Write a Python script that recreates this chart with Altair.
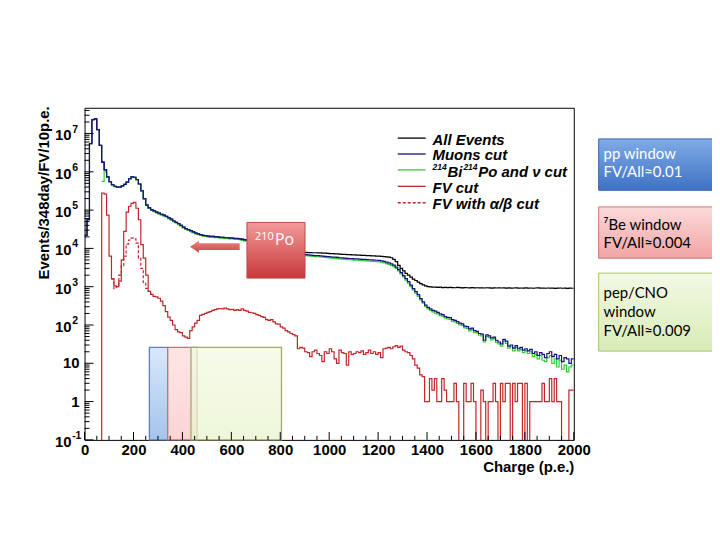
import altair as alt
import pandas as pd

# ------------------------------------------------------------------ data
bin_width = 10  # p.e. per bin, bins start at 0

all_events = [
    22000, 56000, 5.4e6, 2.3e7, 2.4e7, 1.26e7, 4.9e6, 1.8e6, 1.12e6, 7.4e5,
    5.5e5, 4.6e5, 4.2e5, 4.0e5, 4.0e5, 4.3e5, 4.7e5, 5.4e5, 6.6e5, 7.4e5,
    7.2e5, 6.3e5, 4.8e5, 3.2e5, 2.0e5, 1.35e5, 1.15e5, 1.02e5, 9.5e4, 8.9e4,
    8.3e4, 7.8e4, 7.4e4, 6.9e4, 6.3e4, 5.8e4, 5.2e4, 4.8e4, 4.4e4, 4.0e4,
    3.6e4, 3.3e4, 3.1e4, 2.9e4, 2.7e4, 2.5e4, 2.4e4, 2.3e4, 2.2e4, 2.15e4,
    2.1e4, 2.05e4, 2.05e4, 2.0e4, 2.0e4, 1.95e4, 1.95e4, 1.9e4, 1.9e4, 1.86e4,
    1.86e4, 1.82e4, 1.82e4, 1.78e4, 1.74e4, 1.7e4, 1.66e4, 1.62e4, 1.58e4, 1.55e4,
    1.51e4, 1.45e4, 1.38e4, 1.32e4, 1.26e4, 1.2e4, 1.15e4, 1.1e4, 1.05e4, 1.0e4,
    9800, 9550, 9330, 9120, 8900, 8700, 8500, 8300, 8100, 7900,
    7900, 7800, 7800, 7700, 7700, 7600, 7600, 7500, 7500, 7400,
    7300, 7300, 7200, 7200, 7100, 7000, 7000, 6900, 6900, 6800,
    6800, 6700, 6700, 6600, 6600, 6500, 6500, 6400, 6400, 6300,
    6300, 6200, 6100, 6000, 5900, 5700, 5200, 4500, 3600, 3000,
    2600, 2240, 2000, 1780, 1580, 1450, 1320, 1200, 1120, 1050,
    1000, 990, 970, 980, 960, 970, 950, 965, 945, 955,
    950, 940, 955, 945, 935, 950, 940, 930, 945, 935,
    940, 930, 935, 925, 940, 930, 920, 935, 925, 930,
    925, 935, 920, 930, 915, 925, 935, 920, 925, 915,
    930, 920, 925, 910, 925, 930, 915, 920, 910, 925,
    915, 920, 905, 915, 925, 910, 915, 905, 920, 910,
]

muons_cut = [
    22000, 56000, 5.4e6, 2.3e7, 2.4e7, 1.26e7, 4.9e6, 1.8e6, 1.12e6, 7.4e5,
    5.5e5, 4.6e5, 4.2e5, 4.0e5, 4.0e5, 4.3e5, 4.7e5, 5.4e5, 6.6e5, 7.4e5,
    7.2e5, 6.3e5, 4.8e5, 3.2e5, 2.0e5, 1.35e5, 1.15e5, 1.02e5, 9.5e4, 8.9e4,
    8.3e4, 7.8e4, 7.4e4, 6.9e4, 6.3e4, 5.8e4, 5.2e4, 4.8e4, 4.4e4, 4.0e4,
    3.6e4, 3.3e4, 3.1e4, 2.9e4, 2.7e4, 2.5e4, 2.4e4, 2.3e4, 2.2e4, 2.15e4,
    2.1e4, 2.05e4, 2.05e4, 2.0e4, 2.0e4, 1.95e4, 1.95e4, 1.9e4, 1.9e4, 1.86e4,
    1.85e4, 1.81e4, 1.8e4, 1.76e4, 1.72e4, 1.67e4, 1.63e4, 1.59e4, 1.55e4, 1.51e4,
    1.47e4, 1.41e4, 1.34e4, 1.28e4, 1.22e4, 1.16e4, 1.11e4, 1.06e4, 1.01e4, 9600,
    9300, 9050, 8800, 8600, 8400, 8200, 8000, 7800, 7600, 7400,
    6900, 6800, 6700, 6600, 6500, 6450, 6400, 6300, 6200, 6100,
    6000, 5950, 5900, 5800, 5700, 5650, 5600, 5500, 5450, 5400,
    5350, 5300, 5250, 5200, 5150, 5100, 5050, 5000, 4950, 4900,
    4850, 4750, 4600, 4400, 4200, 3950, 3650, 3250, 2800, 2340,
    1950, 1620, 1350, 1100, 890, 740, 620, 490, 400, 330,
    290, 263, 240, 229, 214, 195, 186, 166, 158, 155,
    138, 132, 123, 112, 107, 93, 91, 79, 83, 71,
    68, 60, 58, 40, 55, 52, 46, 48, 40, 36,
    32, 42, 38, 28, 30, 25, 29, 24, 26, 22,
    24, 21, 23, 18, 20, 16, 19, 17, 14, 18,
    20, 15, 17, 13, 16, 11, 14, 13, 10, 13,
]

bipo_nu_first_bin = 70
bipo_nu_cut = [
    5.6e5, 1.0e6, 7.2e5,
    5.4e5, 4.5e5, 4.1e5, 3.9e5, 3.9e5, 4.2e5, 4.6e5, 5.3e5, 6.4e5, 7.2e5,
    7.0e5, 6.1e5, 4.7e5, 3.1e5, 1.95e5, 1.3e5, 1.1e5, 9.8e4, 9.1e4, 8.5e4,
    7.9e4, 7.4e4, 7.0e4, 6.6e4, 6.0e4, 5.5e4, 5.0e4, 4.6e4, 4.2e4, 3.8e4,
    3.45e4, 3.15e4, 2.95e4, 2.75e4, 2.55e4, 2.4e4, 2.3e4, 2.2e4, 2.1e4, 2.05e4,
    2.0e4, 1.95e4, 1.95e4, 1.9e4, 1.9e4, 1.85e4, 1.85e4, 1.8e4, 1.8e4, 1.76e4,
    1.78e4, 1.74e4, 1.72e4, 1.68e4, 1.63e4, 1.58e4, 1.54e4, 1.49e4, 1.45e4, 1.41e4,
    1.37e4, 1.31e4, 1.25e4, 1.19e4, 1.13e4, 1.08e4, 1.03e4, 9800, 9300, 8900,
    8600, 8300, 8100, 7900, 7700, 7500, 7300, 7100, 6900, 6700,
    6500, 6400, 6300, 6200, 6100, 6050, 6000, 5900, 5800, 5700,
    5600, 5550, 5500, 5400, 5300, 5250, 5200, 5100, 5050, 5000,
    4950, 4900, 4850, 4800, 4750, 4700, 4650, 4600, 4550, 4500,
    4450, 4350, 4200, 4000, 3800, 3600, 3350, 3000, 2600, 2150,
    1800, 1480, 1230, 1000, 820, 680, 560, 450, 370, 300,
    265, 240, 220, 205, 195, 175, 170, 150, 145, 140,
    125, 120, 110, 100, 98, 84, 82, 70, 76, 63,
    62, 54, 52, 36, 50, 47, 41, 44, 35, 32,
    28, 38, 33, 25, 27, 21, 26, 21, 23, 19,
    21, 18, 20, 15, 17, 13, 16, 12, 11, 14,
    16, 10, 13, 8, 12, 7, 9, 6, 8, 9,
]

fv_cut = [
    0, 0, 0, 0, 0, 0, 0, 2.8e5, 2.6e5, 7.4e4,
    6300, 1600, 1050, 1000, 1400, 5000, 2.8e4, 8.9e4, 1.26e5, 1.5e5,
    1.6e5, 1.12e5, 5.6e4, 1.26e4, 5600, 2000, 760, 630, 560, 540,
    500, 420, 320, 224, 160, 132, 100, 76, 66, 63,
    52, 48, 45, 71, 89, 112, 132, 178, 190, 200,
    214, 224, 240, 251, 263, 270, 263, 275, 263, 251,
    257, 240, 251, 240, 263, 240, 229, 214, 209, 200,
    186, 178, 166, 158, 138, 132, 138, 120, 107, 105,
    89, 83, 71, 66, 60, 56, 52, 24, 26, 25,
    20, 19, 15, 20, 22, 18, 16, 11, 20, 18,
    24, 20, 13, 10, 22, 19, 18, 9, 20, 17,
    18, 20, 19, 21, 17, 19, 22, 18, 20, 17,
    19, 14, 24, 25, 26, 24, 27, 29, 26, 28,
    22, 20, 19, 16, 13, 9, 7.5, 5, 4.5, 1,
    1, 4, 2, 4, 1, 1, 4, 2, 1, 1,
    1, 3, 1, 0, 0, 3, 1, 1, 3, 1,
    0, 0, 2, 1, 0, 1, 1, 3, 1, 0,
    3, 1, 3, 3, 0, 3, 1, 3, 3, 0,
    3, 0, 1, 1, 1, 1, 1, 3, 1, 1,
    4, 1, 4, 1, 1, 0, 0, 0, 2, 2,
]

fv_ab_first_bin = 110
fv_ab_cut = [1600, 890, 1000, 2000, 3500, 6300, 1.3e4, 1.66e4, 1.86e4,
             1.78e4, 1.38e4, 5600, 3000, 1300, 900, 760, 630]

x_tick_values = [0, 200, 400, 600, 800, 1000, 1200, 1400, 1600, 1800, 2000]
y_tick_values = [0.1, 1, 10, 100, 1e3, 1e4, 1e5, 1e6, 1e7]
y_tick_base = ["10", "1", "10", "10", "10", "10", "10", "10", "10"]
y_tick_exp = ["-1", "", "", "2", "3", "4", "5", "6", "7"]

window_names = ["pp", "7Be", "pep/CNO"]
window_lo = [265, 340, 435]
window_hi = [340, 460, 805]
window_top = [26, 26, 26]

legend_labels = ["All Events", "Muons cut", "", "FV cut", "FV with α/β cut"]
box_texts = [["pp window", "FV/All≈0.01"],
             ["⁷Be window", "FV/All≈0.004"],
             ["pep/CNO", "window", "FV/All≈0.009"]]

# ------------------------------------------------------------------ layout
W, H = 492, 334
FONT = "Liberation Sans, Arial, DejaVu Sans"
C_ALL, C_MU, C_GR, C_FV = "#000000", "#121280", "#33cc33", "#c0262c"

x_scale = alt.Scale(domain=[0, 2000], nice=False, zero=False)
y_scale = alt.Scale(type="log", domain=[0.1, 4.7e7], nice=False)

x_axis = alt.Axis(values=x_tick_values, format="d", title="Charge (p.e.)",
                  ticks=False, tickSize=0, domain=False, grid=False,
                  labelFlush=False, labelOverlap=False, labelPadding=3,
                  labelFont=FONT, labelFontWeight="bold", labelFontSize=15,
                  labelColor="black", titleFont=FONT, titleFontWeight="bold",
                  titleFontSize=15, titleColor="black", titleX=W, titleY=27,
                  titleAlign="right", titleBaseline="middle", titleAngle=0)
y_axis = alt.Axis(values=y_tick_values, labels=False,
                  title="Events/348day/FV/10p.e.", ticks=False, tickSize=0,
                  domain=False, grid=False, titleFont=FONT,
                  titleFontWeight="bold", titleFontSize=15, titleColor="black",
                  titleX=-41, titleY=-2, titleAngle=270, titleAlign="right",
                  titleBaseline="middle")


def X(field):
    return alt.X(field + ":Q", scale=x_scale, axis=x_axis)


def Y(field):
    return alt.Y(field + ":Q", scale=y_scale, axis=y_axis)


def grad(top, bottom):
    return alt.LinearGradient(
        gradient="linear", x1=0, x2=0, y1=0, y2=1,
        stops=[alt.GradientStop(color=top, offset=0),
               alt.GradientStop(color=bottom, offset=1)])


def hist(values, color, start=0, dash=None):
    edges = [start + i * bin_width for i in range(len(values) + 1)]
    ys = [v if v > 0 else 1e-3 for v in list(values) + [values[-1]]]
    df = pd.DataFrame({"charge": edges, "events": ys})
    kw = dict(interpolate="step-after", clip=True, color=color, strokeWidth=1.2)
    if dash:
        kw["strokeDash"] = dash
    return alt.Chart(df).mark_line(**kw).encode(x=X("charge"), y=Y("events"))


one = alt.Data(values=[{"k": 1}])


def box(x, x2, y, y2, fill, stroke, sw=1.0):
    return alt.Chart(one).mark_rect(fill=fill, stroke=stroke, strokeWidth=sw).encode(
        x=alt.value(x), x2=alt.value(x2), y=alt.value(y), y2=alt.value(y2))


def label(text, x, y, size, color="black", font=FONT, weight="normal",
          style="normal", align="left", baseline="middle"):
    return alt.Chart(one).mark_text(
        text=text, font=font, fontSize=size, fontWeight=weight, fontStyle=style,
        color=color, align=align, baseline=baseline).encode(
        x=alt.value(x), y=alt.value(y))


def rule(x, x2, y, color, dash=None):
    kw = dict(color=color, strokeWidth=1.3)
    if dash:
        kw["strokeDash"] = dash
    return alt.Chart(one).mark_rule(**kw).encode(
        x=alt.value(x), x2=alt.value(x2), y=alt.value(y))


layers = []

# energy windows
win_df = pd.DataFrame({"name": window_names, "lo": window_lo, "hi": window_hi,
                       "bottom": [0.1] * 3, "top": window_top})
win_style = {
    "pp": (grad("#d9e8fc", "#a6c3ea"), "#5f83b8", 1.0),
    "7Be": (grad("#fde6e6", "#fbd4d4"), "#b27a7e", 1.0),
    "pep/CNO": (grad("#f4fae4", "#e8f4cc"), "#a3ab6c", 0.75),
}
for nm in window_names:
    f, s, op = win_style[nm]
    layers.append(
        alt.Chart(win_df).transform_filter(alt.datum.name == nm)
        .mark_rect(fill=f, stroke=s, strokeWidth=1.3, fillOpacity=op)
        .encode(x=X("lo"), x2="hi", y=Y("bottom"), y2="top"))

# histograms
layers.append(hist(all_events, C_ALL))
layers.append(hist(bipo_nu_cut, C_GR, start=bipo_nu_first_bin))
layers.append(hist(muons_cut, C_MU))
layers.append(hist(fv_cut, C_FV))
layers.append(hist(fv_ab_cut, C_FV, start=fv_ab_first_bin, dash=[3, 2]))

# inward ticks
x_minor = [v for v in range(0, 2001, 50) if v % 200]
y_minor = [k * 10.0 ** e for e in range(-1, 8) for k in range(2, 10)
           if k * 10.0 ** e < 4.7e7]
layers.append(alt.Chart(pd.DataFrame({"v": x_tick_values})).mark_rule(
    color="black", strokeWidth=1).encode(x=X("v"), y=alt.value(H), y2=alt.value(H - 8)))
layers.append(alt.Chart(pd.DataFrame({"v": x_minor})).mark_rule(
    color="black", strokeWidth=1).encode(x=X("v"), y=alt.value(H), y2=alt.value(H - 4)))
layers.append(alt.Chart(pd.DataFrame({"v": y_tick_values})).mark_rule(
    color="black", strokeWidth=1).encode(y=Y("v"), x=alt.value(0), x2=alt.value(9)))
layers.append(alt.Chart(pd.DataFrame({"v": y_minor})).mark_rule(
    color="black", strokeWidth=1).encode(y=Y("v"), x=alt.value(0), x2=alt.value(5)))

# y tick labels: base and raised exponent (ROOT style)
ylab = pd.DataFrame({"v": y_tick_values, "base": y_tick_base, "exp": y_tick_exp})
layers.append(alt.Chart(ylab).transform_filter(alt.datum.exp != "").mark_text(
    font=FONT, fontWeight="bold", fontSize=15, align="right", baseline="middle",
    dy=2, color="black").encode(y=Y("v"), x=alt.value(-13), text="base:N"))
layers.append(alt.Chart(ylab).transform_filter(alt.datum.exp != "").mark_text(
    font=FONT, fontWeight="bold", fontSize=10.5, align="left", baseline="middle",
    dy=-4, color="black").encode(y=Y("v"), x=alt.value(-12.5), text="exp:N"))
layers.append(alt.Chart(ylab).transform_filter(alt.datum.exp == "").mark_text(
    font=FONT, fontWeight="bold", fontSize=15, align="right", baseline="middle",
    dy=0, color="black").encode(y=Y("v"), x=alt.value(-5), text="base:N"))

# legend
leg_line_y = [30.5, 46.5, 62.5, 79, 95.5]
leg_text_y = [32.5, 48, 64.5, 81, 97]
leg_colors = [C_ALL, C_MU, C_GR, C_FV, C_FV]
for i, txt in enumerate(legend_labels):
    layers.append(rule(315, 343, leg_line_y[i], leg_colors[i],
                       dash=[3, 2] if i == 4 else None))
    if txt:
        layers.append(label(txt, 350, leg_text_y[i], 15, weight="bold",
                            style="italic"))
# "214Bi 214Po and nu cut" with real superscripts
layers.append(label("214", 350, 63, 8.5, weight="bold", style="italic",
                    baseline="alphabetic"))
layers.append(label("Bi", 365, 70, 15, weight="bold", style="italic",
                    baseline="alphabetic"))
layers.append(label("214", 381, 63, 8.5, weight="bold", style="italic",
                    baseline="alphabetic"))
layers.append(label("Po and ν cut", 396, 70, 15, weight="bold", style="italic",
                    baseline="alphabetic"))

# 210Po arrow and box
arrow_path = ("M -1 0 L -0.64 -0.24 L -0.64 -0.136 L 1 -0.136 L 1 0.136 "
              "L -0.64 0.136 L -0.64 0.24 Z")
layers.append(alt.Chart(one).mark_point(
    shape=arrow_path, size=2500, filled=True, opacity=1, strokeWidth=0,
    fill=grad("#ec8582", "#c9484a")).encode(x=alt.value(131), y=alt.value(139.7)))
layers.append(box(163.3, 221.7, 115.3, 171.3, grad("#f39a9a", "#c8383b"), "#b94a4a"))
layers.append(label("210", 171.5, 132.5, 11, color="white", font="Open Sans",
                    baseline="alphabetic"))
layers.append(label("Po", 191.5, 138, 16, color="white", font="Open Sans",
                    baseline="alphabetic"))

# right-hand text boxes
BOX_FONT = "Lato, Open Sans"
layers.append(box(517, 632, 31.3, 83, grad("#80abe6", "#3e72c4"), "#3a67b0"))
layers.append(box(517, 632, 99.7, 151.3, grad("#fcdada", "#f1a4a4"), "#cf7473"))
layers.append(box(517, 632, 166.3, 244.7, grad("#f3f9e6", "#d8ecb6"), "#a3c46a"))
box_text_y = [[46.3, 64.7], [118, 136.3], [186.3, 205, 224.7]]
box_text_color = ["white", "black", "black"]
for b, lines in enumerate(box_texts):
    for j, t in enumerate(lines):
        layers.append(label(t, 522, box_text_y[b][j], 15, color=box_text_color[b],
                            font=BOX_FONT))

chart = alt.layer(*layers).properties(
    width=W, height=H,
    autosize=alt.AutoSizeParams(type="none"),
    padding={"left": 77, "top": 99, "right": 139, "bottom": 40},
    background="white",
).configure_view(stroke="black", strokeWidth=1)

chart.save("out.html", embed_options={"renderer": "svg", "actions": False})
